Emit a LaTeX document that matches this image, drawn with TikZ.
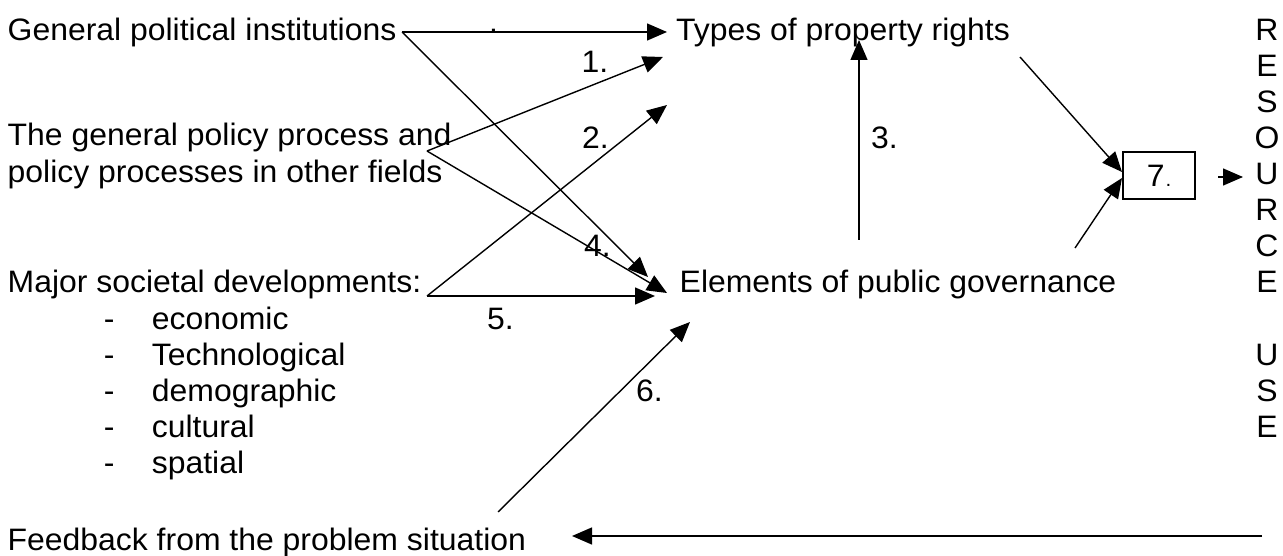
\documentclass[tikz,border=0pt]{standalone}
\usepackage{fontspec}
\setmainfont{Liberation Sans}[FakeStretch=1.03]
\usetikzlibrary{arrows.meta}
\begin{document}
\begin{tikzpicture}[x=1pt,y=-1pt,
  txt/.style={anchor=base west,inner sep=0pt,font=\fontsize{31}{36.1}\selectfont},
  letter/.style={anchor=base,inner sep=0pt,font=\fontsize{31}{36.1}\selectfont},
  conn/.style={line width=1.4pt,-{Triangle[length=20pt,width=17pt]}},
  boxst/.style={draw,line width=1.4pt,minimum width=72pt,minimum height=47pt,inner sep=0pt,font=\fontsize{31}{36.1}\selectfont}]
\useasboundingbox (0,0) rectangle (1283,556);
% texts
\node[txt] (gpi) at (7.5,40.3) {General political institutions};
\node[txt] (tpr) at (676,40.3) {Types of property rights};
\node[txt] (gpp1) at (7.5,146) {The general policy process and};
\node[txt] (gpp2) at (7.5,182.5) {policy processes in other fields};
\node[txt] (msd) at (7.5,293) {Major societal developments:};
\node[txt] (d1) at (103.6,329) {-};
\node[txt] (d2) at (103.6,365) {-};
\node[txt] (d3) at (103.6,401.3) {-};
\node[txt] (d4) at (103.6,437.4) {-};
\node[txt] (d5) at (103.6,473.5) {-};
\node[txt] (w1) at (151.7,329) {economic};
\node[txt] (w2) at (151.7,365) {Technological};
\node[txt] (w3) at (151.7,401.3) {demographic};
\node[txt] (w4) at (151.7,437.4) {cultural};
\node[txt] (w5) at (151.7,473.5) {spatial};
\node[txt] (epg) at (679.5,293) {Elements of public governance};
\node[txt] (fb) at (7.5,550) {Feedback from the problem situation};
\node[txt] (dot) at (489,33) {.};
% labels
\node[txt] (l1) at (581.5,73) {1.};
\node[txt] (l2) at (582,148.6) {2.};
\node[txt] (l3) at (871,148.6) {3.};
\node[txt] (l4) at (584,257) {4.};
\node[txt] (l5) at (487,329) {5.};
\node[txt] (l6) at (636,401.3) {6.};
% resource use column
\foreach \ch/\k in {R/0,E/1,S/2,O/3,U/4,R/5,C/6,E/7,U/9,S/10,E/11}{
  \node[letter] (r\k) at (1267,40.3+36.1*\k) {\ch};
}
% box
\node[boxst] (box) at (1159,175.5) {7\kern1pt{\fontsize{20}{20}\selectfont.}};
% coordinates
\coordinate (a0) at (402,32);
\coordinate (aT0) at (667,32);
\coordinate (aE0) at (648,277);
\coordinate (b0) at (427,151);
\coordinate (bT) at (663,57);
\coordinate (bE) at (667,293);
\coordinate (c0) at (427,296);
\coordinate (cT) at (667,105);
\coordinate (cE) at (655,296);
\coordinate (e3a) at (859,240);
\coordinate (e3b) at (859,40);
\coordinate (f0) at (498,512);
\coordinate (fE) at (690,322);
\coordinate (g0) at (1262,536);
\coordinate (gF) at (572,536);
\coordinate (h0) at (1020,57);
\coordinate (h1) at (1122,172);
\coordinate (i0) at (1075,248);
\coordinate (i1) at (1122,178);
\coordinate (j0) at (1218,177);
\coordinate (j1) at (1243,177);
% connectors
\draw[conn] (a0) -- (aT0);
\draw[conn] (a0) -- (aE0);
\draw[conn] (b0) -- (bT);
\draw[conn] (b0) -- (bE);
\draw[conn] (c0) -- (cT);
\draw[conn] (c0) -- (cE);
\draw[conn] (e3a) -- (e3b);
\draw[conn] (f0) -- (fE);
\draw[conn] (g0) -- (gF);
\draw[conn] (h0) -- (h1);
\draw[conn] (i0) -- (i1);
\draw[conn] (j0) -- (j1);
\end{tikzpicture}
\end{document}
